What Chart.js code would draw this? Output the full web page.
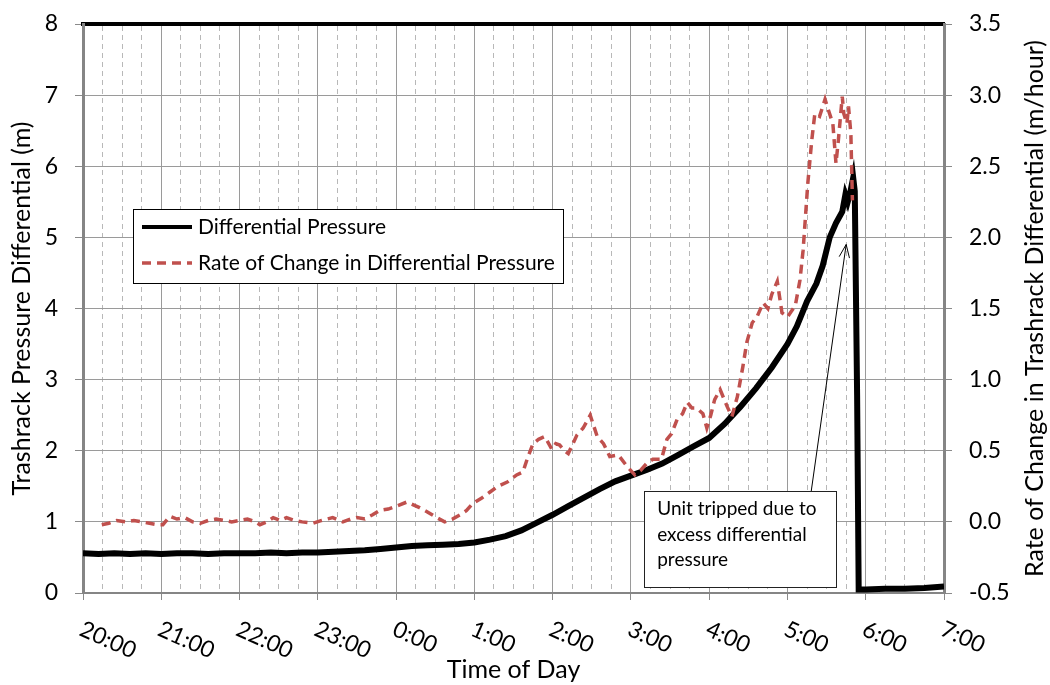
<!DOCTYPE html>
<html>
<head>
<meta charset="utf-8">
<script src="https://cdn.jsdelivr.net/npm/chart.js@4.4.0/dist/chart.umd.min.js"></script>
<style>
  html, body { margin: 0; padding: 0; background: #fff; }
  #wrap { width: 1050px; height: 685px; }
</style>
</head>
<body>
<div id="wrap"><canvas id="trashChart"></canvas></div>
<script>
    // hours after 20:00
    const hourLabels = ["20:00", "21:00", "22:00", "23:00", "0:00", "1:00", "2:00", "3:00", "4:00", "5:00", "6:00", "7:00"];

    const pressureTime = [0.00, 0.20, 0.40, 0.60, 0.80, 1.00, 1.20, 1.40, 1.60, 1.80, 2.00, 2.20, 2.40, 2.60, 2.80, 3.00, 3.20, 3.40, 3.60, 3.80,
        4.00, 4.20, 4.40, 4.60, 4.80, 5.00, 5.20, 5.40, 5.60, 5.80, 6.00, 6.20, 6.40, 6.60, 6.80, 7.00, 7.20, 7.40, 7.60, 7.80,
        8.00, 8.20, 8.40, 8.60, 8.80, 9.00, 9.12, 9.25, 9.37, 9.45, 9.54, 9.62, 9.70, 9.74, 9.77, 9.80, 9.84, 9.86, 9.89, 9.91,
        10.00, 10.25, 10.50, 10.75, 11.00];
    const pressureValue = [0.56, 0.55, 0.56, 0.55, 0.56, 0.55, 0.56, 0.56, 0.55, 0.56, 0.56, 0.56, 0.57, 0.56, 0.57, 0.57, 0.58, 0.59, 0.60, 0.62,
        0.64, 0.66, 0.67, 0.68, 0.69, 0.71, 0.75, 0.80, 0.88, 0.99, 1.10, 1.22, 1.34, 1.46, 1.57, 1.65, 1.73, 1.82, 1.94, 2.06,
        2.18, 2.38, 2.62, 2.88, 3.17, 3.50, 3.75, 4.10, 4.35, 4.60, 5.00, 5.20, 5.36, 5.60, 5.50, 5.62, 5.84, 5.65, 2.78, 0.05,
        0.05, 0.06, 0.06, 0.07, 0.09];

    const rateTime = [0.24, 0.33, 0.43, 0.55, 0.65, 0.75, 0.85, 0.95, 1.02, 1.11, 1.20, 1.30, 1.40, 1.50, 1.60, 1.70, 1.80, 1.90, 2.00, 2.10,
        2.20, 2.26, 2.35, 2.43, 2.52, 2.60, 2.70, 2.80, 2.94, 3.05, 3.19, 3.32, 3.42, 3.50, 3.60, 3.70, 3.79, 3.90, 4.00, 4.14,
        4.22, 4.30, 4.40, 4.52, 4.62, 4.72, 4.82, 4.90, 4.98, 5.10, 5.20, 5.30, 5.42, 5.54, 5.62, 5.68, 5.75, 5.82, 5.90, 5.99,
        6.04, 6.09, 6.15, 6.20, 6.31, 6.39, 6.48, 6.57, 6.65, 6.73, 6.84, 6.95, 7.05, 7.12, 7.20, 7.28, 7.39, 7.46, 7.52, 7.59,
        7.66, 7.72, 7.78, 7.84, 7.92, 7.97, 8.02, 8.07, 8.14, 8.23, 8.29, 8.36, 8.43, 8.48, 8.55, 8.61, 8.69, 8.75, 8.80, 8.87,
        8.93, 9.00, 9.05, 9.10, 9.16, 9.20, 9.26, 9.31, 9.35, 9.41, 9.48, 9.52, 9.58, 9.62, 9.65, 9.70, 9.72, 9.76, 9.78, 9.81, 9.83];
    const rateValue = [-0.02, -0.01, 0.01, 0.00, 0.01, 0.00, -0.01, -0.02, -0.02, 0.04, 0.02, 0.03, 0.00, -0.01, 0.01, 0.02, 0.01, 0.00, 0.01, 0.02,
        0.00, -0.02, 0.00, 0.03, 0.01, 0.03, 0.01, 0.00, -0.01, 0.01, 0.03, 0.00, 0.02, 0.03, 0.02, 0.05, 0.08, 0.09, 0.11, 0.14,
        0.12, 0.10, 0.07, 0.03, 0.00, 0.02, 0.05, 0.08, 0.13, 0.17, 0.21, 0.25, 0.28, 0.33, 0.35, 0.45, 0.55, 0.58, 0.60, 0.51,
        0.55, 0.54, 0.50, 0.48, 0.61, 0.66, 0.75, 0.60, 0.55, 0.46, 0.47, 0.39, 0.33, 0.36, 0.41, 0.44, 0.44, 0.58, 0.62, 0.72,
        0.76, 0.84, 0.80, 0.80, 0.76, 0.66, 0.75, 0.86, 0.93, 0.81, 0.74, 0.88, 1.09, 1.26, 1.40, 1.44, 1.54, 1.50, 1.60, 1.69,
        1.47, 1.44, 1.48, 1.52, 1.70, 1.91, 2.38, 2.68, 2.87, 2.85, 2.97, 2.90, 2.80, 2.52, 2.68, 2.99, 2.87, 2.80, 2.92, 2.73, 2.26];

    const noteLines = ["Unit tripped due to", "excess differential", "pressure"];
    const noteTarget = { x: 9.75, y: 4.9 };   // arrow tip, data units (left axis)
    const noteBoxAt = { x: 7.17, y: 1.43 };   // top-left of callout, data units

    const FONT = "Lato, 'Noto Sans', sans-serif";

    const toPoints = (xs, ys) => xs.map((x, i) => ({ x: x, y: ys[i] }));

    // fixed axis sizes, and no extra room for the end labels
    const fixWidth = w => s => { s.width = w; s.paddingTop = 0; s.paddingBottom = 0; };

    const overlayPlugin = {
        id: 'overlay',
        afterDraw(chart) {
            const { ctx, chartArea, scales } = chart;
            ctx.save();

            // rotated time labels under the x axis
            ctx.font = '23px ' + FONT;
            ctx.fillStyle = '#000';
            ctx.textAlign = 'left';
            ctx.textBaseline = 'middle';
            scales.x.ticks.forEach(t => {
                const px = scales.x.getPixelForValue(t.value);
                ctx.save();
                ctx.translate(px - 2, chartArea.bottom + 35);
                ctx.rotate(24 * Math.PI / 180);
                ctx.fillText(hourLabels[t.value], 0, 0);
                ctx.restore();
            });

            // right axis title, reading bottom to top
            ctx.save();
            ctx.font = '25px ' + FONT;
            ctx.textAlign = 'center';
            ctx.translate(1035, (chartArea.top + chartArea.bottom) / 2);
            ctx.rotate(-Math.PI / 2);
            ctx.fillText('Rate of Change in Trashrack Differential (m/hour)', 0, 0);
            ctx.restore();

            // legend box
            const lx = chartArea.left + 50, ly = chartArea.top + 185;
            ctx.fillStyle = '#fff';
            ctx.fillRect(lx, ly, 430, 74);
            ctx.strokeStyle = '#000';
            ctx.lineWidth = 1;
            ctx.strokeRect(lx + 0.5, ly + 0.5, 430, 74);
            ctx.font = '21px ' + FONT;
            chart.data.datasets.forEach((ds, i) => {
                const rowY = ly + 18 + i * 36;
                ctx.save();
                ctx.strokeStyle = ds.borderColor;
                ctx.lineWidth = i === 0 ? 4 : 3.5;
                ctx.setLineDash(ds.borderDash || []);
                ctx.beginPath();
                ctx.moveTo(lx + 9, rowY);
                ctx.lineTo(lx + 59, rowY);
                ctx.stroke();
                ctx.restore();
                ctx.fillStyle = '#000';
                ctx.textAlign = 'left';
                ctx.fillText(ds.label, lx + 65, rowY);
            });

            // callout with arrow
            const bx = scales.x.getPixelForValue(noteBoxAt.x);
            const by = scales.y.getPixelForValue(noteBoxAt.y);
            const tx = scales.x.getPixelForValue(noteTarget.x);
            const ty = scales.y.getPixelForValue(noteTarget.y);
            const sx = bx + 167, sy = by;
            ctx.strokeStyle = '#000';
            ctx.lineWidth = 1;
            ctx.beginPath();
            ctx.moveTo(sx, sy);
            ctx.lineTo(tx, ty);
            ctx.stroke();
            const ang = Math.atan2(ty - sy, tx - sx);
            ctx.beginPath();
            ctx.moveTo(tx - 14 * Math.cos(ang - 0.38), ty - 14 * Math.sin(ang - 0.38));
            ctx.lineTo(tx, ty);
            ctx.lineTo(tx - 14 * Math.cos(ang + 0.38), ty - 14 * Math.sin(ang + 0.38));
            ctx.stroke();

            ctx.fillStyle = '#fff';
            ctx.fillRect(bx, by, 192, 96);
            ctx.strokeStyle = '#222';
            ctx.strokeRect(Math.round(bx) + 0.5, Math.round(by) + 0.5, 192, 96);
            ctx.fillStyle = '#000';
            ctx.font = '19px ' + FONT;
            noteLines.forEach((line, i) => {
                ctx.fillText(line, bx + 13, by + 18 + i * 25.5);
            });

            ctx.restore();
        }
    };

    const ctxTrash = document.getElementById('trashChart').getContext('2d');

    new Chart(ctxTrash, {
        type: 'line',
        data: {
            datasets: [{
                label: 'Differential Pressure',
                data: toPoints(pressureTime, pressureValue),
                xAxisID: 'x',
                yAxisID: 'y',
                borderColor: '#000000',
                borderWidth: 6,
                pointRadius: 0,
                tension: 0,
                order: 1
            }, {
                label: 'Rate of Change in Differential Pressure',
                data: toPoints(rateTime, rateValue),
                xAxisID: 'x',
                yAxisID: 'y1',
                borderColor: '#c0504d',
                borderWidth: 3.5,
                borderDash: [9, 6],
                pointRadius: 0,
                tension: 0,
                order: 0
            }]
        },
        options: {
            responsive: true,
            maintainAspectRatio: false,
            animation: false,
            layout: { padding: { top: 24, left: 0, right: 0, bottom: 0 } },
            plugins: {
                legend: { display: false },
                tooltip: { enabled: false }
            },
            scales: {
                x: {
                    type: 'linear',
                    position: 'bottom',
                    min: 0,
                    max: 11,
                    ticks: { stepSize: 1, display: false },
                    grid: { color: '#9a9a9a', lineWidth: 1, tickLength: 7, tickColor: '#8a8a8a' },
                    border: { color: '#858585', width: 2 },
                    title: {
                        display: true,
                        text: 'Time of Day',
                        color: '#000',
                        font: { family: FONT, size: 25 },
                        padding: { top: 0, bottom: 0 }
                    },
                    afterFit: s => { s.height = 92; }
                },
                xMinor: {
                    type: 'linear',
                    position: 'top',
                    min: 0,
                    max: 11,
                    ticks: { stepSize: 0.25, display: false },
                    grid: {
                        color: c => (c.tick && Number.isInteger(c.tick.value)) ? 'rgba(0,0,0,0)' : '#b8b8b8',
                        lineWidth: 1,
                        drawTicks: false
                    },
                    border: { display: true, color: '#000', width: 4, dash: [5, 4] },
                    afterFit: s => { s.height = 0; }
                },
                y: {
                    position: 'left',
                    min: 0,
                    max: 8,
                    ticks: { stepSize: 1, color: '#000', padding: 17, font: { family: FONT, size: 23 } },
                    grid: { color: '#9a9a9a', tickLength: 8, tickColor: '#8a8a8a' },
                    border: { color: '#858585', width: 3 },
                    title: {
                        display: true,
                        text: 'Trashrack Pressure Differential (m)',
                        color: '#000',
                        font: { family: FONT, size: 25 },
                        padding: { top: 7, bottom: 0 }
                    },
                    afterFit: fixWidth(83)
                },
                y1: {
                    position: 'right',
                    min: -0.5,
                    max: 3.5,
                    ticks: {
                        stepSize: 0.5,
                        color: '#000',
                        padding: 17,
                        font: { family: FONT, size: 23 },
                        callback: v => v.toFixed(1)
                    },
                    grid: { drawOnChartArea: false, tickLength: 8, tickColor: '#8a8a8a' },
                    border: { color: '#858585', width: 3 },
                    afterFit: fixWidth(106)
                }
            }
        },
        plugins: [overlayPlugin]
    });
</script>
</body>
</html>
